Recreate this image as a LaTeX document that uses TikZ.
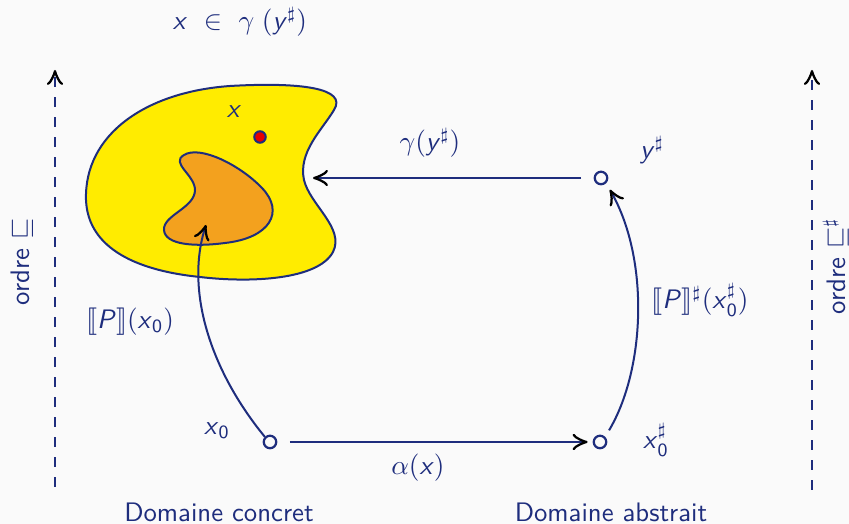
\documentclass[tikz,border=0pt]{standalone}
\usepackage{amsmath,amssymb,stmaryrd}
\usetikzlibrary{arrows.meta}
\renewcommand\familydefault{\sfdefault}
\definecolor{navy}{RGB}{30,45,125}
\definecolor{bg}{RGB}{250,250,250}
\definecolor{blobyellow}{RGB}{255,236,0}
\definecolor{bloborange}{RGB}{243,161,30}
\definecolor{dotred}{RGB}{232,0,0}
\newcommand\sx{\textsf{\textit{x}}}
\newcommand\sy{\textsf{\textit{y}}}
\newcommand\sP{\textsf{\textit{P}}}
\newcommand\szero{\textsf{0}}
\tikzset{
  lbl/.style={text=navy,font=\fontsize{10.7}{13}\selectfont\sffamily,inner sep=1pt},
  pt/.style={circle,draw=navy,line width=0.9pt,fill=bg,inner sep=0pt,minimum size=5pt},
  tip/.style={-{Classical TikZ Rightarrow[color=black,length=6pt,width=6.5pt,line width=0.9pt]}},
  conn/.style={draw=navy,line width=0.8pt,tip},
  orderline/.style={draw=navy,line width=0.8pt,dash pattern=on 4pt off 4pt,tip},
}
\begin{document}
\begin{tikzpicture}[x=0.4pt,y=-0.4pt]
\fill[bg] (0,0) rectangle (849,524);
\useasboundingbox (0,0) rectangle (849,524);

% title
\node[lbl] (title) at (240,22) {$\sx\ \in\ \gamma\;(\sy^{\sharp})$};

% order axes
\coordinate (lb) at (55,487);
\coordinate (lt) at (55,70);
\draw[orderline] (lb) -- (lt);
\node[lbl,rotate=90] (ordL) at (22,262) {ordre $\sqsubseteq$};
\coordinate (rb) at (812,490);
\coordinate (rt) at (812,70);
\draw[orderline] (rb) -- (rt);
\node[lbl,rotate=90] (ordR) at (836,266) {ordre $\sqsubseteq^{\sharp}$};

% concrete blob
\draw[navy,line width=0.8pt,fill=blobyellow]
  (86,200) .. controls (84,135) and (145,92) .. (230,86)
  .. controls (300,82) and (348,88) .. (334,110)
  .. controls (322,130) and (298,152) .. (304,180)
  .. controls (310,205) and (345,228) .. (333,252)
  .. controls (318,280) and (250,283) .. (200,277)
  .. controls (140,271) and (88,250) .. (86,200) -- cycle;
\draw[navy,line width=0.8pt,fill=bloborange]
  (184,155) .. controls (200,145) and (240,165) .. (262,188)
  .. controls (285,212) and (270,238) .. (225,243)
  .. controls (195,247) and (165,245) .. (164,230)
  .. controls (163,215) and (195,208) .. (195,190)
  .. controls (195,175) and (170,163) .. (184,155) -- cycle;
\node[circle,draw=navy,line width=0.8pt,fill=dotred,inner sep=0pt,minimum size=4.6pt] (xdot) at (260,137) {};
\node[lbl] (xl) at (234,112) {$\sx$};

% points
\node[pt] (x0) at (270,442) {};
\node[pt] (x0s) at (600,442) {};
\node[pt] (ys) at (601,178) {};
\node[lbl] (x0l) at (217,431) {$\sx_{\szero}$};
\node[lbl] (x0sl) at (656,440) {$\sx_{\szero}^{\sharp}$};
\node[lbl] (ysl) at (652,150) {$\sy^{\sharp}$};

% alpha
\draw[conn,shorten <=5pt,shorten >=2pt] (x0) -- (x0s);
\node[lbl] (alpha) at (418,468) {$\alpha(\sx)$};

% gamma
\coordinate (gend) at (313,178);
\draw[conn,shorten <=5pt] (ys) -- (gend);
\node[lbl] (gamma) at (430,143) {$\gamma(\sy^{\sharp})$};

% semantics
\coordinate (pend) at (206,225);
\draw[conn] (x0.north west) .. controls (210,370) and (185,290) .. (pend);
\node[lbl] (Pl) at (130,322) {$\llbracket \sP\rrbracket(\sx_{\szero})$};
\draw[conn,shorten <=3pt,shorten >=3pt] (x0s.north east) .. controls (645,370) and (650,260) .. (ys.south east);
\node[lbl] (Psl) at (700,300) {$\llbracket \sP\rrbracket^{\sharp}(\sx_{\szero}^{\sharp})$};

% domains
\node[lbl] (dc) at (219,512) {Domaine concret};
\node[lbl] (da) at (611,512) {Domaine abstrait};
\end{tikzpicture}
\end{document}
